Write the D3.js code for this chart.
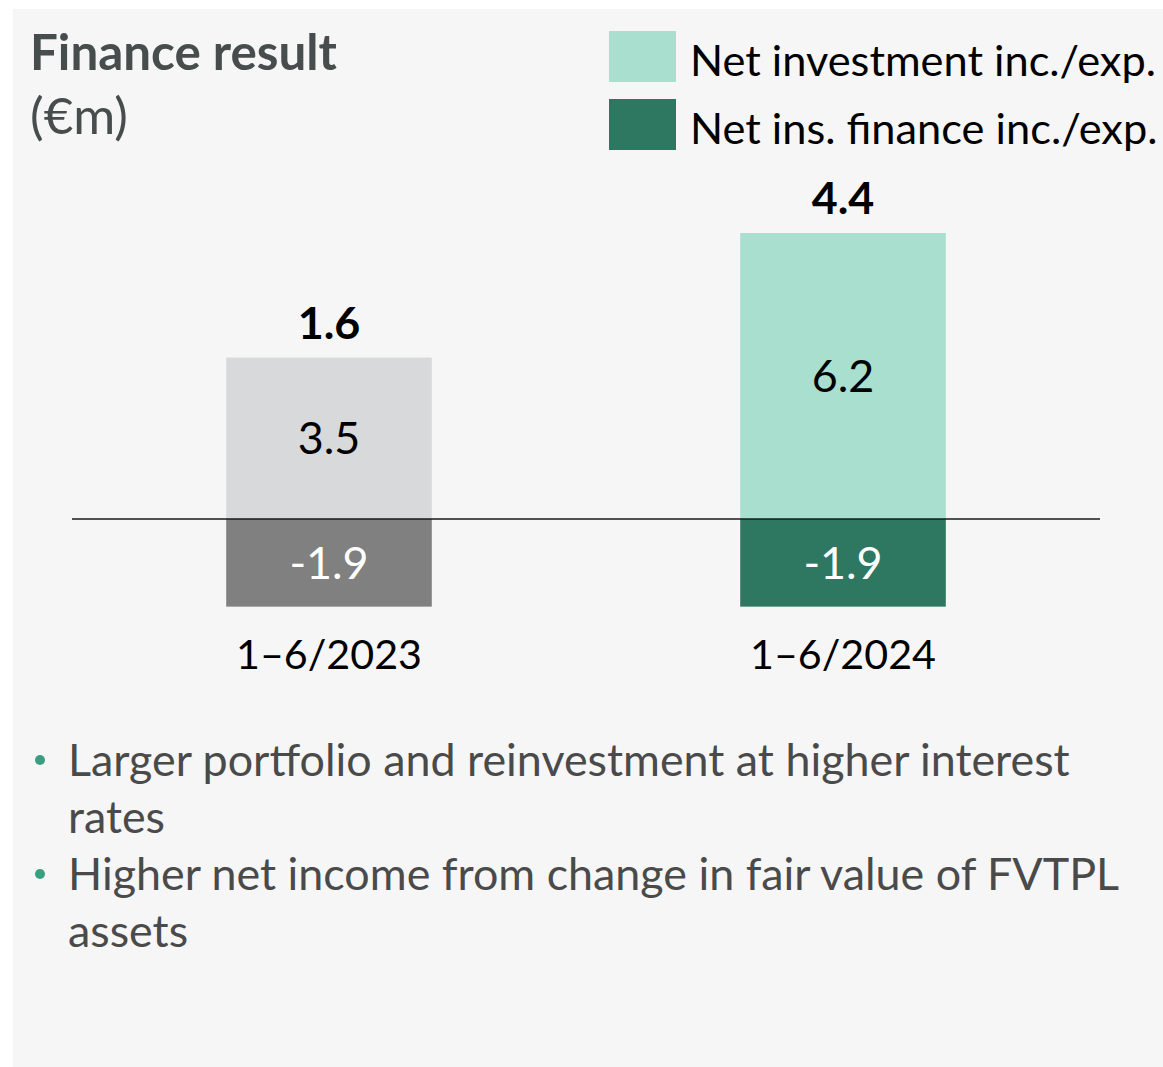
<!DOCTYPE html>
<html><head><meta charset="utf-8">
<script src="https://cdn.jsdelivr.net/npm/d3@7"></script>
<style>html,body{margin:0;padding:0;background:#fff;}svg{display:block;}</style>
</head><body>
<script>
const categories = ["1–6/2023", "1–6/2024"];
const netInvestment = [3.5, 6.2];
const netInsFinance = [-1.9, -1.9];
const totals = [1.6, 4.4];
const seriesNames = ["Net investment inc./exp.", "Net ins. finance inc./exp."];
const posColors = ["#d8d9da", "#a9dfcf"];
const negColors = ["#808080", "#2e7862"];
const legendColors = ["#a9dfcf", "#2e7862"];
const title = "Finance result";
const unit = "(€m)";
const bullets = [
  ["Larger portfolio and reinvestment at higher interest", "rates"],
  ["Higher net income from change in fair value of FVTPL", "assets"]
];

const W = 1163, H = 1067;
const svg = d3.select("body").append("svg").attr("width", W).attr("height", H);
const FONT = "Lato, 'Open Sans', sans-serif";

svg.append("rect").attr("x", 13).attr("y", 9).attr("width", W - 13).attr("height", H - 9).attr("fill", "#f6f6f6");

function fitSize(text, width, weight) {
  const p = svg.append("text").attr("font-family", FONT).attr("font-size", 40)
    .attr("font-weight", weight || "normal").text(text);
  const s = 40 * width / p.node().getComputedTextLength();
  p.remove();
  return s;
}
const fs = fitSize(bullets[0][0], 1002);
const fsTitle = fitSize(title, 307, "bold");
const fsUnit = fitSize(unit, 98);
const fsLegend = fitSize(seriesNames[0], 466);
const fsCat = fitSize(categories[0], 186);

const x = d3.scaleBand().domain(categories).range([72, 1100]).paddingInner(0.6).paddingOuter(0.3);
const y = d3.scaleLinear().domain([0, 6.2]).range([519, 233]);

const g = svg.append("g");
g.selectAll("rect.pos").data(categories).join("rect")
  .attr("x", d => x(d)).attr("width", x.bandwidth())
  .attr("y", (d, i) => y(netInvestment[i])).attr("height", (d, i) => y(0) - y(netInvestment[i]))
  .attr("fill", (d, i) => posColors[i]);
g.selectAll("rect.neg").data(categories).join("rect")
  .attr("x", d => x(d)).attr("width", x.bandwidth())
  .attr("y", y(0)).attr("height", (d, i) => y(netInsFinance[i]) - y(0))
  .attr("fill", (d, i) => negColors[i]);

g.append("line").attr("x1", 72).attr("x2", 1100).attr("y1", y(0)).attr("y2", y(0))
  .attr("stroke", "#1a1a1a").attr("stroke-width", 1.5);

const cx = d => x(d) + x.bandwidth() / 2;
g.selectAll("text.pv").data(categories).join("text")
  .attr("x", cx).attr("y", (d, i) => (y(netInvestment[i]) + y(0)) / 2)
  .attr("dy", "0.36em").attr("text-anchor", "middle")
  .attr("font-family", FONT).attr("font-size", fs).attr("fill", "#000")
  .text((d, i) => netInvestment[i].toFixed(1));
g.selectAll("text.nv").data(categories).join("text")
  .attr("x", cx).attr("y", (d, i) => (y(netInsFinance[i]) + y(0)) / 2)
  .attr("dy", "0.36em").attr("text-anchor", "middle")
  .attr("font-family", FONT).attr("font-size", fs).attr("fill", "#fff")
  .text((d, i) => netInsFinance[i].toFixed(1));
g.selectAll("text.tot").data(categories).join("text")
  .attr("x", cx).attr("y", (d, i) => y(netInvestment[i]) - 19)
  .attr("text-anchor", "middle").attr("font-weight", "bold")
  .attr("font-family", FONT).attr("font-size", fs).attr("fill", "#000")
  .text((d, i) => totals[i].toFixed(1));
const ax = g.append("g").attr("transform", `translate(0,${y(Math.min(...netInsFinance))})`)
  .call(d3.axisBottom(x).tickSize(0).tickPadding(0));
ax.select(".domain").remove();
ax.selectAll("text").attr("font-family", FONT).attr("font-size", fsCat).attr("fill", "#000")
  .attr("dy", null).attr("y", 62);

svg.append("text").attr("x", 30).attr("y", 70).attr("font-family", FONT).attr("font-weight", "bold")
  .attr("font-size", fsTitle).attr("fill", "#474d4d").text(title);
svg.append("text").attr("x", 30).attr("y", 134).attr("font-family", FONT)
  .attr("font-size", fsUnit).attr("fill", "#474d4d").text(unit);

const lg = svg.append("g");
seriesNames.forEach((s, i) => {
  lg.append("rect").attr("x", 609).attr("y", 31 + i * 68).attr("width", 67).attr("height", 51).attr("fill", legendColors[i]);
  lg.append("text").attr("x", 690).attr("y", 76 + i * 68).attr("font-family", FONT).attr("font-size", fsLegend)
    .attr("fill", "#000").text(s);
});

let line = 0;
bullets.forEach((b) => {
  svg.append("circle").attr("cx", 40).attr("cy", 760 + line * 57).attr("r", 5).attr("fill", "#3a9e80");
  b.forEach(t => {
    svg.append("text").attr("x", 68).attr("y", 776 + line * 57).attr("font-family", FONT)
      .attr("font-size", fs).attr("fill", "#4a4a4a").text(t);
    line++;
  });
});
</script>
</body></html>
